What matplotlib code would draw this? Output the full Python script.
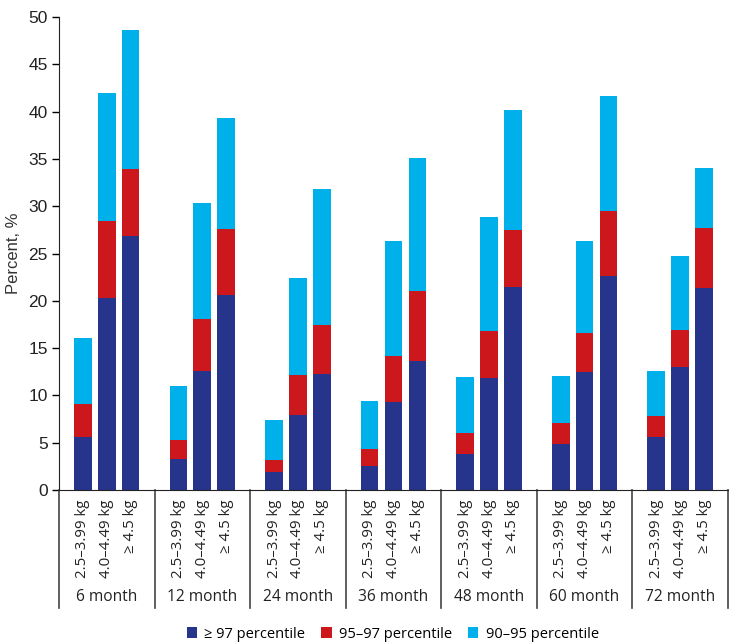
import matplotlib
matplotlib.use("Agg")
import matplotlib.pyplot as plt
import matplotlib.transforms as mtransforms
from matplotlib.patches import Patch
import numpy as np

groups = ["6 month", "12 month", "24 month", "36 month", "48 month", "60 month", "72 month"]
weights = ["2.5\u20133.99 kg", "4.0\u20134.49 kg", "\u2265 4.5 kg"]
series = ["\u2265 97 percentile", "95\u201397 percentile", "90\u201395 percentile"]

# cumulative tops, per group: [bar1, bar2, bar3]
top_97 = [[5.6, 20.3, 26.9], [3.3, 12.6, 20.6], [1.9, 7.9, 12.3], [2.5, 9.3, 13.6],
          [3.8, 11.8, 21.5], [4.9, 12.5, 22.6], [5.6, 13.0, 21.4]]
top_95 = [[9.1, 28.4, 33.9], [5.3, 18.1, 27.6], [3.2, 12.2, 17.4], [4.3, 14.2, 21.0],
          [6.0, 16.8, 27.5], [7.1, 16.6, 29.5], [7.8, 16.9, 27.7]]
top_90 = [[16.1, 42.0, 48.6], [11.0, 30.3, 39.3], [7.4, 22.4, 31.8], [9.4, 26.3, 35.1],
          [11.9, 28.9, 40.2], [12.1, 26.3, 41.7], [12.6, 24.7, 34.0]]

colors = ["#27348b", "#cc171c", "#00b0ea"]

t97 = np.array(top_97)
t95 = np.array(top_95)
t90 = np.array(top_90)

fig = plt.figure(figsize=(7.3, 6.44), dpi=100)
ax = fig.add_axes([0.0808, 0.2391, 0.9164, 0.7345])

offsets = [-0.25, 0.0, 0.25]
width = 0.185
for j, off in enumerate(offsets):
    x = np.arange(len(groups)) + off
    ax.bar(x, t97[:, j], width, color=colors[0], linewidth=0)
    ax.bar(x, t95[:, j] - t97[:, j], width, bottom=t97[:, j], color=colors[1], linewidth=0)
    ax.bar(x, t90[:, j] - t95[:, j], width, bottom=t95[:, j], color=colors[2], linewidth=0)

ax.set_xlim(-0.5, len(groups) - 0.5)
ax.set_ylim(0, 50)
ax.set_yticks(np.arange(0, 51, 5))
ax.tick_params(axis="y", labelsize=12.5, length=5, width=1, pad=3, labelcolor="#222222")
for lab in ax.get_yticklabels():
    lab.set_family("Liberation Sans")
ax.set_xticks([])
ax.spines["top"].set_visible(False)
ax.spines["right"].set_visible(False)
ax.spines["left"].set_color("#222222")
ax.spines["bottom"].set_color("#222222")
ax.set_ylabel("Percent, %", fontsize=12, family="Liberation Sans", color="#333333", labelpad=5)

trans = mtransforms.blended_transform_factory(ax.transData, ax.transAxes)
for b in np.arange(len(groups) + 1) - 0.5:
    ax.plot([b, b], [0, -0.2495], transform=trans, color="#444444", lw=1.2, clip_on=False)

for i, g in enumerate(groups):
    for j, off in enumerate(offsets):
        ax.text(i + off, -0.021, weights[j], transform=trans, rotation=90, ha="center", va="top",
                fontsize=10.8, family="Open Sans", color="#222222")
    ax.text(i, -0.226, g, transform=trans, ha="center", va="center",
            fontsize=11.2, family="Open Sans", color="#222222")

handles = [Patch(facecolor=c, edgecolor="none") for c in colors]
fig.legend(handles, series, loc="center", bbox_to_anchor=(0.538, 0.0155), ncol=3, frameon=False,
           prop={"family": "Open Sans", "size": 10.5}, handlelength=0.7, handleheight=0.7,
           handletextpad=0.5, columnspacing=1.1)

fig.savefig("out.png", dpi=100)
